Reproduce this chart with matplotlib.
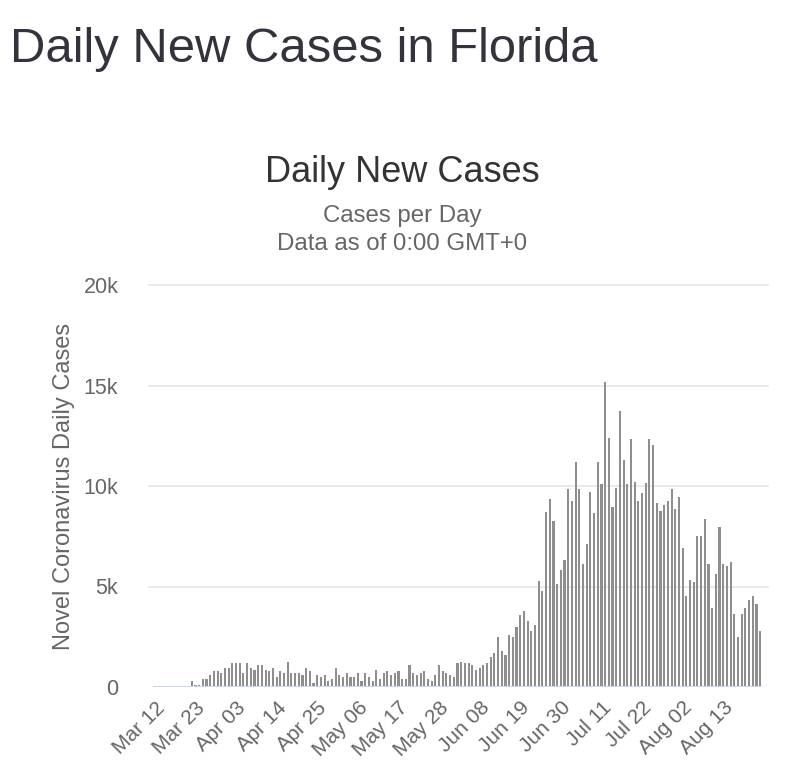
import pandas as pd
import matplotlib.pyplot as plt

plt.rcParams['font.family'] = ['Liberation Sans', 'DejaVu Sans']

# дни с 12 марта по 23 августа
dates = pd.date_range('2020-03-12', '2020-08-23', freq='D')

# новые случаи в день
cases = [
    0, 0, 0, 0, 0, 0, 0, 0, 0, 0,
    320, 120, 120, 400, 400, 580, 780, 780, 680, 970, 970, 1170, 1170, 1170, 680,
    1170, 970, 870, 1070, 1070, 870, 780, 970, 500, 780, 680, 1250, 680, 680, 680,
    580, 970, 780, 220, 580, 500, 580, 320, 400,
    970, 580, 500, 680, 500, 500, 680, 320, 680, 500, 320, 870, 400, 680, 780,
    580, 680, 780, 400, 400, 1070, 680, 580, 680, 780, 400, 320, 580, 1070, 780,
    680, 580, 500, 1170, 1250, 1170, 1170, 1070, 870,
    950, 1100, 1200, 1500, 1700, 2500, 1800, 1600, 2600, 2500, 3000, 3600, 3800,
    3300, 2800, 3100,
    5250, 4800, 8700, 9350, 8250, 5100, 5800, 6300, 9850, 9250, 11200, 9850, 6100,
    7100, 9700, 8650, 11200, 10100, 15150, 12400, 8950, 9900, 13750, 11300, 10100,
    12350, 10200, 9250, 9650, 10150, 12350, 12050, 9150, 8750, 9050, 9250, 9850,
    8850, 9450, 6900, 4550, 5300, 5200, 7500, 7500, 8350, 6100, 3950, 5600, 7950,
    6100, 6000, 6200, 3650, 2500, 3650, 3950, 4350, 4550, 4150, 2800,
]

y_ticks = [0, 5000, 10000, 15000, 20000]
y_tick_labels = ['0', '5k', '10k', '15k', '20k']

# подписи по оси x - каждые 11 дней
tick_step = 11

fig = plt.figure(figsize=(8, 7.69), dpi=100)
ax = fig.add_axes([153 / 800, 82 / 769, 609 / 800, 402 / 769])

x = list(range(len(dates)))
ax.bar(x, cases, width=0.58, color='#8e8e8e', zorder=3)

ax.set_xlim(-0.5, len(dates) - 0.5)
ax.set_ylim(0, 20000)

ax.set_yticks(y_ticks)
ax.set_yticklabels(y_tick_labels)
ax.tick_params(axis='y', length=0, pad=25, labelsize=15.5, labelcolor='#666666')

xt = x[::tick_step]
ax.set_xticks(xt)
ax.set_xticklabels([d.strftime('%b %d') for d in dates[::tick_step]],
                   rotation=45, ha='right', rotation_mode='anchor')
ax.tick_params(axis='x', length=0, pad=8, labelsize=15, labelcolor='#666666')

# сетка чуть шире области графика, как в оригинале
for yv in y_ticks[1:]:
    ax.plot([-1.5, len(dates) + 1], [yv, yv], color='#e6e6e6', lw=1.2, zorder=1, clip_on=False)
ax.axhline(0, color='#ccd6eb', lw=1.5, zorder=4)

for s in ax.spines.values():
    s.set_visible(False)

ax.set_ylabel('Novel Coronavirus Daily Cases', fontsize=17, color='#666666')
ax.yaxis.set_label_coords((75 - 153) / 609, 0.5)

fig.text(10 / 800, 1 - 62 / 769, 'Daily New Cases in Florida', fontsize=35.3,
         color='#33333d', va='baseline', ha='left')
fig.text(402 / 800, 1 - 172 / 769, 'Daily New Cases', fontsize=26, color='#333333',
         va='center', ha='center')
fig.text(402 / 800, 1 - 216 / 769, 'Cases per Day', fontsize=17.3, color='#666666',
         va='center', ha='center')
fig.text(402 / 800, 1 - 244 / 769, 'Data as of 0:00 GMT+0', fontsize=17.3, color='#666666',
         va='center', ha='center')

fig.savefig('out.png', dpi=100)
